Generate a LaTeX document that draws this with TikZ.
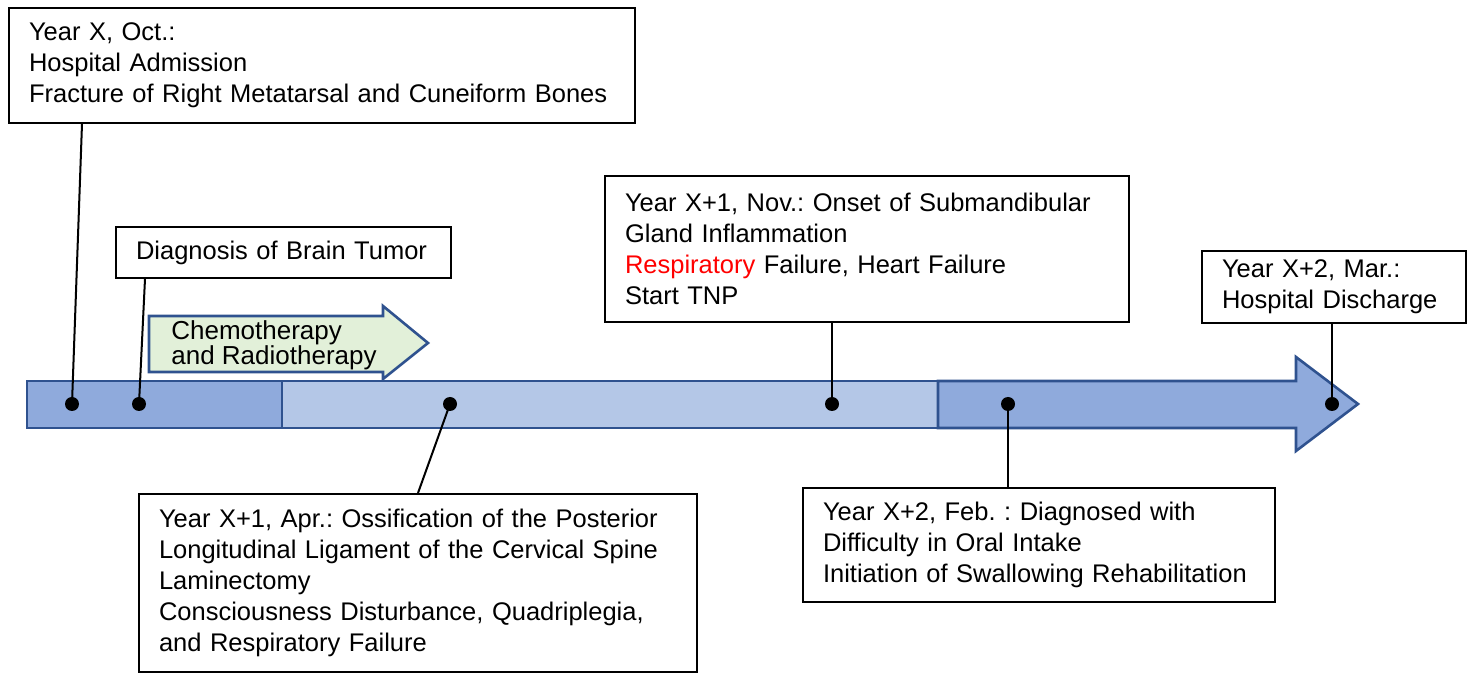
\documentclass[tikz,border=0pt]{standalone}
\usepackage{fontspec}
\setmainfont{Liberation Sans}
\frenchspacing
\definecolor{edgeblue}{HTML}{2F528F}
\definecolor{darkseg}{HTML}{8FAADC}
\definecolor{lightseg}{HTML}{B4C7E7}
\definecolor{chemogreen}{HTML}{E2F0D9}
\begin{document}
\begin{tikzpicture}[x=0.5pt,y=-0.5pt,
  evbox/.style={draw=black,line width=1pt,fill=white,rectangle,anchor=north west,
    align=left,inner xsep=10pt,inner ysep=0pt,
    font=\fontsize{12.75}{15.5}\selectfont\frenchspacing},
  dot/.style={circle,fill=black,minimum size=7pt,inner sep=0pt},
  conn/.style={line width=1pt,black},
  seg/.style={draw=edgeblue,line width=1.3pt}]
\useasboundingbox (0,0) rectangle (1474,673);

% timeline
\draw[seg,fill=darkseg] (27,381) rectangle (282,428);
\draw[seg,fill=lightseg] (282,381) rectangle (938,428);
\draw[seg,fill=darkseg] (938,381) -- (1296,381) -- (1296,357) -- (1358,404) -- (1296,451) -- (1296,428) -- (938,428) -- cycle;

% chemotherapy arrow
\draw[seg,fill=chemogreen] (149,316) -- (383,316) -- (383,306) -- (428,343) -- (383,379) -- (383,372) -- (149,372) -- cycle;
\node[anchor=west,align=left,inner sep=0pt,font=\fontsize{13}{12.5}\selectfont] (chemo) at (171,345) {Chemotherapy\\and Radiotherapy};

% boxes
\node[evbox,text width=293pt,minimum height=57.5pt] (b1) at (8,7) {Year X, Oct.:\\Hospital Admission\\Fracture of Right Metatarsal and Cuneiform Bones};
\node[evbox,text width=147.5pt,minimum height=25.5pt] (b2) at (115,226) {Diagnosis of Brain Tumor};
\node[evbox,text width=242pt,minimum height=73pt] (b3) at (604,175) {Year X+1, Nov.: Onset of Submandibular\\Gland Inflammation\\\textcolor{red}{Respiratory} Failure, Heart Failure\\Start TNP};
\node[evbox,text width=112pt,minimum height=36pt] (b4) at (1201,250) {Year X+2, Mar.:\\Hospital Discharge};
\node[evbox,text width=259pt,minimum height=89pt] (b5) at (138,493) {Year X+1, Apr.: Ossification of the Posterior\\Longitudinal Ligament of the Cervical Spine\\Laminectomy\\Consciousness Disturbance, Quadriplegia,\\and Respiratory Failure};
\node[evbox,text width=216pt,minimum height=57pt] (b6) at (802,487) {Year X+2, Feb. : Diagnosed with\\Difficulty in Oral Intake\\Initiation of Swallowing Rehabilitation};

% dots
\node[dot] (d1) at (72,404) {};
\node[dot] (d2) at (139,404) {};
\node[dot] (d3) at (450,404) {};
\node[dot] (d4) at (832,404) {};
\node[dot] (d5) at (1008,404) {};
\node[dot] (d6) at (1332,404) {};

% connectors
\draw[conn] ([xshift=37pt]b1.south west) -- (d1.center);
\draw[conn] ([xshift=15pt]b2.south west) -- (d2.center);
\draw[conn] (d3.center) -- ([xshift=140pt]b5.north west);
\draw[conn] ([xshift=114pt]b3.south west) -- (d4.center);
\draw[conn] (d5.center) -- ([xshift=103pt]b6.north west);
\draw[conn] ([xshift=65.5pt]b4.south west) -- (d6.center);
\end{tikzpicture}
\end{document}
